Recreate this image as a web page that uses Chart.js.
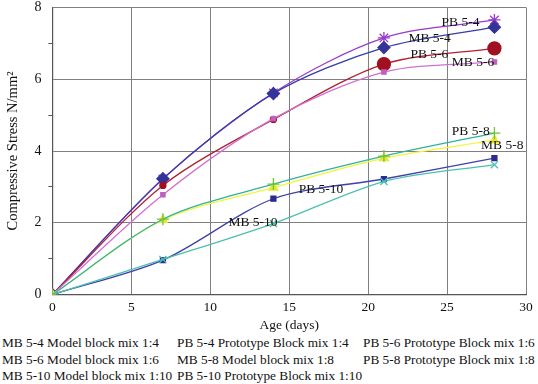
<!DOCTYPE html>
<html lang="en">
<head>
<meta charset="UTF-8">
<title>Compressive Stress vs Age</title>
<script src="https://cdn.jsdelivr.net/npm/chart.js@4/dist/chart.umd.min.js"></script>
<style>
    body { margin: 0; background: #fff; font-family: "Liberation Serif", "Times New Roman", Tinos, "DejaVu Serif"; overflow: hidden; }
    #wrap { position: relative; width: 538px; height: 342px; margin-top: -8px; }
    .legend { position: absolute; left: 0; top: 335px; font-size: 13.3px; color: #111; line-height: 16.5px; }
    .legend div { display: flex; white-space: nowrap; }
    .legend span { display: inline-block; }
    .c1 { width: 175px; padding-left: 2px; }
    .c2 { width: 186px; }
</style>
</head>
<body>
<div id="wrap"><canvas id="chart"></canvas></div>
<div class="legend">
    <div><span class="c1">MB 5-4 Model block mix 1:4</span><span class="c2">PB 5-4 Prototype Block mix 1:4</span><span>PB 5-6 Prototype Block mix 1:6</span></div>
    <div><span class="c1">MB 5-6 Model block mix 1:6</span><span class="c2">MB 5-8 Model block mix 1:8</span><span>PB 5-8 Prototype Block mix 1:8</span></div>
    <div><span class="c1">MB 5-10 Model block mix 1:10</span><span class="c2">PB 5-10 Prototype Block mix 1:10</span><span></span></div>
</div>
<script>
    const FONT = '"Liberation Serif", "Times New Roman", Tinos, "DejaVu Serif"';

    // age in days
    const ages = [0, 7, 14, 21, 28];

    const mb54 = [0, 3.23, 5.6, 6.88, 7.45];
    const pb54 = [0, 3.22, 5.62, 7.15, 7.65];
    const pb56 = [0, 3.04, 4.88, 6.42, 6.86];
    const mb56 = [0, 2.78, 4.9, 6.2, 6.48];
    const pb58 = [0, 2.1, 3.08, 3.86, 4.5];
    const mb58 = [0, 2.08, 2.98, 3.8, 4.3];
    const pb510 = [0, 0.96, 2.67, 3.22, 3.8];
    const mb510 = [0, 0.98, 1.98, 3.15, 3.62];

    const xTicks = [0, 5, 10, 15, 20, 25, 30];

    // in-plot labels: [text, age, stress]
    const labels = [
        ['PB 5-4', 24.65, 7.58],
        ['MB 5-4', 22.55, 7.13],
        ['PB 5-6', 22.68, 6.69],
        ['MB 5-6', 25.3, 6.46],
        ['PB 5-8', 25.3, 4.55],
        ['MB 5-8', 27.15, 4.15],
        ['PB 5-10', 15.6, 2.92],
        ['MB 5-10', 11.15, 2.02]
    ];

    function pts(vals) {
        return ages.map((a, i) => ({ x: a, y: vals[i] }));
    }

    function series(label, vals, color, ptColor, style, r) {
        return {
            label,
            data: pts(vals),
            borderColor: color,
            backgroundColor: ptColor,
            pointBorderColor: ptColor,
            pointStyle: style,
            pointRadius: r,
            pointBorderWidth: 1.3,
            borderWidth: 1.3,
            tension: 0.3,
            fill: false
        };
    }

    const textLabels = {
        id: 'textLabels',
        afterDatasetsDraw(chart) {
            const ctx = chart.ctx;
            const xs = chart.scales.x, ys = chart.scales.y;
            ctx.save();
            ctx.font = '13.5px ' + FONT;
            ctx.fillStyle = '#111';
            ctx.textBaseline = 'middle';
            labels.forEach(l => {
                ctx.fillText(l[0], xs.getPixelForValue(l[1]), ys.getPixelForValue(l[2]));
            });
            ctx.restore();
        }
    };

    new Chart(document.getElementById('chart'), {
        type: 'line',
        data: {
            datasets: [
                series('PB 5-8', pb58, '#2fb3a0', '#6cc43a', 'cross', 6),
                series('MB 5-8', mb58, '#f4f43a', '#e8e830', 'triangle', 5),
                series('MB 5-10', mb510, '#4dbfb0', '#4dbfb0', 'crossRot', 5),
                series('PB 5-10', pb510, '#4040a8', '#2a2a90', 'rect', 3.5),
                series('MB 5-6', mb56, '#d070d0', '#c060c0', 'rect', 3),
                series('PB 5-6', pb56, '#b02030', '#a01020', 'circle', [4, 3, 3, 6.5, 6.5]),
                series('MB 5-4', mb54, '#3a3aa8', '#333399', 'rectRot', 6),
                series('PB 5-4', pb54, '#9a3acc', '#9a3acc', 'star', 6)
            ]
        },
        options: {
            responsive: true,
            maintainAspectRatio: false,
            animation: false,
            layout: { padding: { top: 0, right: 12, left: 0, bottom: 0 } },
            plugins: {
                legend: { display: false },
                tooltip: { enabled: false }
            },
            scales: {
                x: {
                    type: 'linear',
                    min: 0,
                    max: 30,
                    afterBuildTicks: ax => { ax.ticks = xTicks.map(v => ({ value: v })); },
                    grid: { color: '#808080', lineWidth: 1, drawTicks: false },
                    border: { color: '#555', width: 1.2 },
                    ticks: { color: '#111', padding: 5, font: { family: FONT, size: 13.5 } },
                    title: { display: true, text: 'Age (days)', color: '#111', padding: { top: -3, bottom: 0 }, font: { family: FONT, size: 13.5 } }
                },
                y: {
                    min: 0,
                    max: 8,
                    ticks: {
                        stepSize: 1,
                        color: '#111',
                        padding: 7,
                        font: { family: FONT, size: 14 },
                        callback: v => (v % 2 === 0 ? v : '')
                    },
                    grid: {
                        color: c => (c.tick && c.tick.value % 2 === 0 ? '#808080' : 'rgba(0,0,0,0)'),
                        tickColor: c => (c.tick && c.tick.value % 2 !== 0 ? '#555' : 'rgba(0,0,0,0)'),
                        tickLength: 4
                    },
                    border: { color: '#555', width: 1.2 },
                    title: { display: true, text: 'Compressive Stress N/mm²', color: '#111', padding: { bottom: 6 }, font: { family: FONT, size: 14.5 } }
                }
            }
        },
        plugins: [textLabels]
    });
</script>
</body>
</html>
